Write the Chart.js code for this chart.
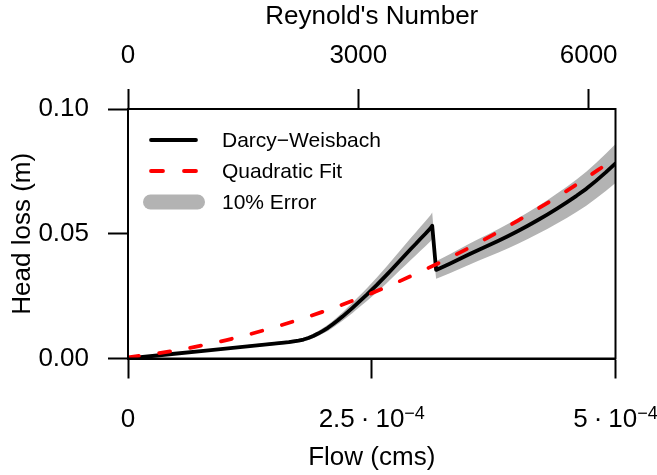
<!DOCTYPE html>
<html><head><meta charset="utf-8">
<script src="https://cdn.jsdelivr.net/npm/chart.js@4.4.0/dist/chart.umd.min.js"></script>
<style>html,body{margin:0;padding:0;background:#fff;}canvas{display:block;}</style>
</head><body>
<canvas id="c" width="657" height="475"></canvas>
<script>
// ---- data ----
const flow = [0,0.4e-4,0.8e-4,1.2e-4,1.6e-4,1.65e-4,1.7e-4,1.75e-4,1.8e-4,1.85e-4,1.9e-4,1.95e-4,2.0e-4,2.05e-4,2.1e-4,2.15e-4,2.2e-4,2.25e-4,2.3e-4,2.35e-4,2.4e-4,2.45e-4,2.5e-4,2.55e-4,2.6e-4,2.65e-4,2.7e-4,2.75e-4,2.8e-4,2.85e-4,2.9e-4,2.95e-4,3.0e-4,3.05e-4,3.1e-4,3.12e-4,3.16e-4,3.2e-4,3.3e-4,3.4e-4,3.5e-4,3.6e-4,3.7e-4,3.8e-4,3.9e-4,4.0e-4,4.1e-4,4.2e-4,4.3e-4,4.4e-4,4.5e-4,4.6e-4,4.7e-4,4.8e-4,4.9e-4,5.0e-4];
const darcyHead = [0,0.0016,0.0032,0.0048,0.0064,0.0066,0.0069,0.0072,0.0076,0.0082,0.0090,0.0100,0.0111,0.0123,0.0137,0.0152,0.0168,0.0185,0.0202,0.0220,0.0238,0.0256,0.0275,0.0294,0.0314,0.0334,0.0355,0.0376,0.0397,0.0418,0.0439,0.0459,0.0480,0.0500,0.0521,0.0532,0.0355,0.0362,0.0380,0.0399,0.0418,0.0436,0.0454,0.0472,0.0491,0.0511,0.0532,0.0554,0.0577,0.0601,0.0626,0.0652,0.0680,0.0712,0.0746,0.0782];
const errUpper = [0,0.00176,0.00352,0.00528,0.00704,0.00726,0.00759,0.00792,0.00836,0.00902,0.0099,0.011,0.01221,0.01353,0.01507,0.01672,0.01848,0.02035,0.02222,0.0242,0.02618,0.02816,0.03025,0.03234,0.03454,0.03674,0.03905,0.04136,0.04367,0.04598,0.04829,0.05049,0.0528,0.055,0.05731,0.05852,0.03905,0.03982,0.0418,0.04389,0.04598,0.04796,0.04994,0.05192,0.05401,0.05621,0.05852,0.06094,0.06347,0.06611,0.06886,0.07172,0.0748,0.07832,0.08206,0.08602];
const errLower = [0,0.00144,0.00288,0.00432,0.00576,0.00594,0.00621,0.00648,0.00684,0.00738,0.0081,0.009,0.00999,0.01107,0.01233,0.01368,0.01512,0.01665,0.01818,0.0198,0.02142,0.02304,0.02475,0.02646,0.02826,0.03006,0.03195,0.03384,0.03573,0.03762,0.03951,0.04131,0.0432,0.045,0.04689,0.04788,0.03195,0.03258,0.0342,0.03591,0.03762,0.03924,0.04086,0.04248,0.04419,0.04599,0.04788,0.04986,0.05193,0.05409,0.05634,0.05868,0.0612,0.06408,0.06714,0.07038];
const fitFlow = [0,0.5e-4,1.0e-4,1.5e-4,2.0e-4,2.5e-4,3.0e-4,3.5e-4,4.0e-4,4.5e-4,5.0e-4];
const fitHead = [0.0004,0.0033,0.0073,0.0125,0.0188,0.0262,0.0348,0.0444,0.0553,0.0672,0.0803];

const flowTicks = [0, 2.5e-4, 5e-4];
const flowTickMantissa = ['0', '2.5', '5'];
const flowTickExponent = ['', '\u22124', '\u22124'];
const reynoldsTicks = [0, 3000, 6000];
const reynoldsMax = 6350;
const headTicks = [0, 0.05, 0.10];
const legendLabels = ['Darcy\u2212Weisbach', 'Quadratic Fit', '10% Error'];
const titleFlow = 'Flow (cms)';
const titleRe = "Reynold's Number";
const titleHead = 'Head loss (m)';

const FONT = '"Liberation Sans", Arial, Helvetica, sans-serif';
Chart.defaults.font.family = FONT;
Chart.defaults.color = '#000';

const pts = (xs, ys) => xs.map((x, i) => ({x, y: ys[i]}));

const customDraw = {
  id: 'customDraw',
  afterDraw(chart) {
    const {ctx, chartArea: a, scales} = chart;
    ctx.save();
    ctx.strokeStyle = '#000'; ctx.lineWidth = 2; ctx.setLineDash([]);
    ctx.strokeRect(a.left, a.top, a.right - a.left, a.bottom - a.top);
    const xs = scales.x;
    ctx.fillStyle = '#000';
    ctx.textBaseline = 'alphabetic';
    ctx.textAlign = 'left';
    const mainF = '26px ' + FONT, supF = '18px ' + FONT;
    const base = a.bottom + 68.5;
    flowTicks.forEach((v, i) => {
      const px = xs.getPixelForValue(v);
      const m = flowTickMantissa[i], e = flowTickExponent[i];
      ctx.font = mainF;
      if (!e) { const w = ctx.measureText(m).width; ctx.fillText(m, px - w / 2, base); return; }
      const gap = 6;
      const wm = ctx.measureText(m).width, wd = ctx.measureText('\u00b7').width, wt = ctx.measureText('10').width;
      ctx.font = supF; const we = ctx.measureText(e).width;
      const total = wm + gap + wd + gap + wt + we;
      let x = px - total / 2;
      ctx.font = mainF;
      ctx.fillText(m, x, base); x += wm + gap;
      ctx.fillText('\u00b7', x, base); x += wd + gap;
      ctx.fillText('10', x, base); x += wt;
      ctx.font = supF; ctx.fillText(e, x, base - 8);
    });
    const lx1 = a.left + 23, lx2 = a.left + 68, tx = a.left + 94;
    const rows = [a.top + 31, a.top + 62, a.top + 93];
    ctx.lineCap = 'round';
    ctx.strokeStyle = '#000'; ctx.lineWidth = 3.8; ctx.setLineDash([]);
    ctx.beginPath(); ctx.moveTo(lx1, rows[0]); ctx.lineTo(lx2, rows[0]); ctx.stroke();
    ctx.strokeStyle = '#ff0000'; ctx.setLineDash([12, 21]);
    ctx.beginPath(); ctx.moveTo(lx1, rows[1]); ctx.lineTo(lx2, rows[1]); ctx.stroke();
    ctx.setLineDash([]);
    ctx.strokeStyle = '#b3b3b3'; ctx.lineWidth = 15;
    ctx.beginPath(); ctx.moveTo(lx1 - 0.5, rows[2]); ctx.lineTo(lx2 + 1.5, rows[2]); ctx.stroke();
    ctx.font = '21px ' + FONT; ctx.fillStyle = '#000'; ctx.textBaseline = 'middle';
    legendLabels.forEach((t, i) => ctx.fillText(t, tx, rows[i] + 1));
    ctx.restore();
  }
};

new Chart(document.getElementById('c'), {
  type: 'line',
  data: {
    datasets: [
      { label: 'Quadratic Fit', data: pts(fitFlow, fitHead), borderColor: '#ff0000', borderWidth: 3.8,
        borderDash: [11, 20.5], borderCapStyle: 'round', pointRadius: 0, fill: false, order: 0,
        cubicInterpolationMode: 'monotone' },
      { label: 'Darcy-Weisbach', data: pts(flow, darcyHead), borderColor: '#000', borderWidth: 3.8,
        borderJoinStyle: 'round', borderCapStyle: 'round', pointRadius: 0, fill: false, order: 1, tension: 0 },
      { label: 'upper', data: pts(flow, errUpper), borderWidth: 0, borderColor: 'rgba(0,0,0,0)',
        backgroundColor: '#b3b3b3', pointRadius: 0, fill: '+1', order: 2, tension: 0 },
      { label: 'lower', data: pts(flow, errLower), borderWidth: 0, borderColor: 'rgba(0,0,0,0)',
        pointRadius: 0, fill: false, order: 2, tension: 0 }
    ]
  },
  options: {
    responsive: false, animation: false, devicePixelRatio: 1,
    layout: { padding: { left: 0, right: 41.5, top: 0, bottom: 0 } },
    plugins: { legend: { display: false }, tooltip: { enabled: false } },
    scales: {
      x: {
        type: 'linear', position: 'bottom', min: 0, max: 5e-4,
        afterBuildTicks: s => { s.ticks = flowTicks.map(v => ({value: v})); },
        afterFit: s => { s.height = 116.5; },
        ticks: { display: false },
        grid: { display: true, drawOnChartArea: false, drawTicks: true, tickLength: 20, tickColor: '#000', tickWidth: 2 },
        border: { display: true, color: '#000', width: 2 },
        title: { display: true, text: titleFlow, font: { size: 26, lineHeight: 1.2 }, padding: { top: 0, bottom: 2 } }
      },
      x2: {
        type: 'linear', position: 'top', min: 0, max: reynoldsMax,
        afterBuildTicks: s => { s.ticks = reynoldsTicks.map(v => ({value: v})); },
        afterFit: s => { s.height = 109; },
        ticks: { font: { size: 26, lineHeight: 1.2 }, padding: 18, maxRotation: 0, callback: v => String(v) },
        grid: { display: true, drawOnChartArea: false, drawTicks: true, tickLength: 20, tickColor: '#000', tickWidth: 2 },
        border: { display: true, color: '#000', width: 2 },
        title: { display: true, text: titleRe, font: { size: 26, lineHeight: 1.2 }, padding: { top: 1.5, bottom: 0 } }
      },
      y: {
        type: 'linear', position: 'left', min: 0, max: 0.1,
        afterBuildTicks: s => { s.ticks = headTicks.map(v => ({value: v})); },
        afterFit: s => { s.width = 128; },
        ticks: { font: { size: 26, lineHeight: 1.2 }, padding: 19, callback: v => v.toFixed(2) },
        grid: { display: true, drawOnChartArea: false, drawTicks: true, tickLength: 20, tickColor: '#000', tickWidth: 2 },
        border: { display: true, color: '#000', width: 2 },
        title: { display: true, text: titleHead, font: { size: 26, lineHeight: 1.2 }, padding: { top: 7, bottom: 0 } }
      }
    }
  },
  plugins: [customDraw]
});
</script>
</body></html>
